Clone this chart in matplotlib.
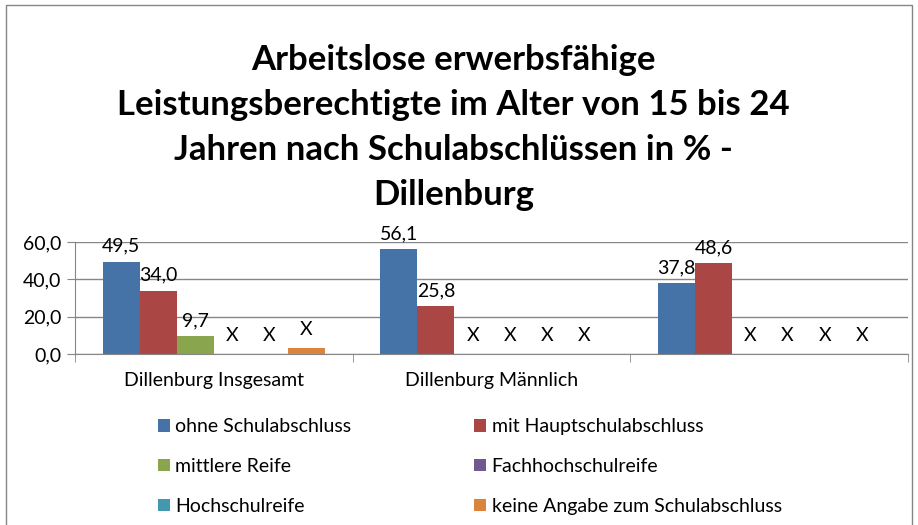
import numpy as np
import matplotlib
matplotlib.use("Agg")
import matplotlib.pyplot as plt
from matplotlib.patches import Rectangle, Patch

plt.rcParams['font.family'] = ['Lato', 'DejaVu Sans']

# Daten
categories = ["Dillenburg Insgesamt", "Dillenburg Männlich", ""]
series_names = ["ohne Schulabschluss", "mit Hauptschulabschluss", "mittlere Reife",
                "Fachhochschulreife", "Hochschulreife", "keine Angabe zum Schulabschluss"]
ohne = [49.5, 56.1, 37.8]
mit_haupt = [34.0, 25.8, 48.6]
mittlere = [9.7, 0.0, 0.0]
fachhoch = [0.0, 0.0, 0.0]
hochschul = [0.0, 0.0, 0.0]
keine_angabe = [3.2, 0.0, 0.0]
# "X" = Wert gesperrt
labels_ohne = ["49,5", "56,1", "37,8"]
labels_mit = ["34,0", "25,8", "48,6"]
labels_mittlere = ["9,7", "X", "X"]
labels_fach = ["X", "X", "X"]
labels_hoch = ["X", "X", "X"]
labels_keine = ["X", "X", "X"]
yticks = [0, 20, 40, 60]

colors = ['#4572A7', '#AA4643', '#89A54E', '#71588F', '#4198AF', '#DB843D']
values = [ohne, mit_haupt, mittlere, fachhoch, hochschul, keine_angabe]
labels = [labels_ohne, labels_mit, labels_mittlere, labels_fach, labels_hoch, labels_keine]

fig = plt.figure(figsize=(9.18, 5.25), dpi=100)
ax = fig.add_axes([0.0817, 0.3257, 0.9073, 0.2133])

n = len(series_names)
w = 1 / 7.5
x = np.arange(len(categories))
for i in range(n):
    pos = x - 0.5 + 0.75 * w + (i + 0.5) * w
    bars = ax.bar(pos, values[i], width=w, color=colors[i], zorder=3)
    for b, lab in zip(bars, labels[i]):
        off = 5 if lab != "X" else 7
        ax.annotate(lab, (b.get_x() + b.get_width() / 2, b.get_height()),
                    xytext=(0, off), textcoords='offset points',
                    ha='center', va='bottom', fontsize=14, zorder=4)

ax.set_xlim(-0.5, len(categories) - 0.5)
ax.set_ylim(0, 60)
ax.set_yticks(yticks)
ax.set_yticklabels([f"{v:.1f}".replace('.', ',') for v in yticks], fontsize=14)
ax.set_xticks(x)
ax.set_xticklabels(categories, fontsize=14)
ax.tick_params(axis='x', length=0, pad=13)
ax.set_xticks(np.arange(len(categories) + 1) - 0.5, minor=True)
ax.tick_params(axis='x', which='minor', length=6, color='#868686')
ax.tick_params(axis='y', length=6, color='#868686', pad=4)
ax.grid(axis='y', color='#868686', linewidth=1, zorder=0)
for s in ['top', 'right']:
    ax.spines[s].set_visible(False)
ax.spines['left'].set_color('#868686')
ax.spines['bottom'].set_color('#868686')

fig.text(0.494, 0.917,
         "Arbeitslose erwerbsfähige\nLeistungsberechtigte im Alter von 15 bis 24\n"
         "Jahren nach Schulabschlüssen in % -\nDillenburg",
         ha='center', va='top', fontsize=25, fontweight='bold', linespacing=1.5)

# Legende zeilenweise wie im Original
order = [0, 2, 4, 1, 3, 5]
handles = [Patch(facecolor=colors[i]) for i in order]
fig.legend(handles, [series_names[i] for i in order], ncol=2, loc='upper left',
           bbox_to_anchor=(0.172, 0.203), frameon=False, fontsize=14,
           handlelength=0.6, handleheight=0.6, handletextpad=0.3,
           labelspacing=1.17, columnspacing=6.3, borderaxespad=0, borderpad=0)

fig.patches.append(Rectangle((0.006, -0.01), 0.988, 1.0, transform=fig.transFigure,
                             fill=False, edgecolor='#868686', linewidth=1))

fig.savefig("out.png", dpi=100)
